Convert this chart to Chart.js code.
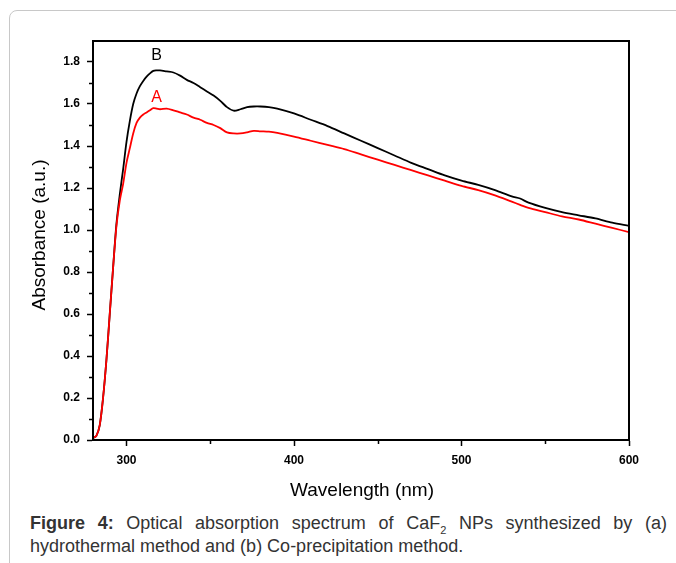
<!DOCTYPE html>
<html>
<head>
<meta charset="utf-8">
<script src="https://cdn.jsdelivr.net/npm/chart.js@4/dist/chart.umd.min.js"></script>
<style>
  body { margin: 0; background: #fff; width: 676px; height: 563px; overflow: hidden; position: relative; }
  #frame { position: absolute; left: 9px; top: 10px; width: 700px; height: 600px; border: 1px solid #c8c8c8; border-radius: 8px; }
  #wrap { position: absolute; left: 0; top: 0; width: 676px; height: 510px; }
  #caption { position: absolute; left: 30px; top: 512px; width: 637px; font: 18px "Liberation Sans", Arial, sans-serif; color: #333; line-height: 23px; }
  #caption .l1 { text-align: justify; text-align-last: justify; white-space: nowrap; }
  #caption sub { font-size: 11px; line-height: 0; }
</style>
</head>
<body>
<div id="frame"></div>
<div id="wrap"><canvas id="absorb" width="676" height="510"></canvas></div>
<div id="caption">
  <div class="l1"><b>Figure 4:</b> Optical absorption spectrum of CaF<sub>2</sub> NPs synthesized by (a)</div>
  <div>hydrothermal method and (b) Co-precipitation method.</div>
</div>
<script>
// wavelength (nm)
var wavelength = [280, 282, 284, 286, 288, 290, 292, 294, 296, 298, 300, 302, 304, 306, 308, 310, 312, 314, 316, 318, 320,
  324, 328, 332, 336, 340, 344, 348, 352, 356, 360, 364, 368, 372, 376, 380, 385, 390,
  400, 410, 420, 430, 440, 450, 460, 470, 480, 490, 500, 510, 520, 530, 535, 540, 550, 560, 570, 580, 590, 600];

// curve A (red)
var absA = [0.01, 0.02, 0.07, 0.2, 0.38, 0.6, 0.82, 1.02, 1.14, 1.22, 1.32, 1.39, 1.46, 1.51, 1.535, 1.55, 1.56, 1.57, 1.58, 1.578, 1.575,
  1.578, 1.57, 1.56, 1.55, 1.535, 1.525, 1.51, 1.5, 1.485, 1.465, 1.46, 1.46, 1.465, 1.472, 1.47, 1.468, 1.462,
  1.445, 1.425, 1.405, 1.385, 1.36, 1.335, 1.31, 1.285, 1.26, 1.235, 1.21, 1.19, 1.165, 1.135, 1.12, 1.105, 1.085, 1.065, 1.05, 1.03, 1.01, 0.99];

// curve B (black)
var absB = [0.01, 0.02, 0.07, 0.2, 0.38, 0.6, 0.82, 1.03, 1.17, 1.29, 1.42, 1.52, 1.6, 1.65, 1.685, 1.71, 1.73, 1.746, 1.758, 1.76, 1.76,
  1.755, 1.75, 1.735, 1.715, 1.7, 1.68, 1.66, 1.64, 1.615, 1.585, 1.568, 1.575, 1.585, 1.588, 1.588, 1.585, 1.578,
  1.555, 1.525, 1.495, 1.46, 1.425, 1.39, 1.355, 1.32, 1.29, 1.26, 1.235, 1.215, 1.19, 1.16, 1.15, 1.13, 1.105, 1.085, 1.07, 1.055, 1.035, 1.02];

var xTicks = [300, 400, 500, 600];
var xMinor = [350, 450, 550];
var yTicks = [0, 0.2, 0.4, 0.6, 0.8, 1.0, 1.2, 1.4, 1.6, 1.8];
var yMinor = [0.1, 0.3, 0.5, 0.7, 0.9, 1.1, 1.3, 1.5, 1.7];

var FONT = '"Liberation Sans", Arial, sans-serif';

function pts(ys) {
  return wavelength.map(function (x, i) { return { x: x, y: ys[i] }; });
}

var extras = {
  id: "extras",
  afterDraw: function (chart) {
    var c = chart.ctx, a = chart.chartArea;
    var xs = chart.scales.x, ys = chart.scales.y;
    c.save();
    // frame
    c.strokeStyle = "#000";
    c.lineWidth = 2;
    c.strokeRect(a.left, a.top, a.right - a.left, a.bottom - a.top);
    // minor ticks
    c.lineWidth = 1.5;
    c.beginPath();
    yMinor.forEach(function (v) {
      var py = Math.round(ys.getPixelForValue(v)) + 0.5;
      c.moveTo(a.left - 4, py); c.lineTo(a.left, py);
    });
    xMinor.forEach(function (v) {
      var px = Math.round(xs.getPixelForValue(v)) + 0.5;
      c.moveTo(px, a.bottom); c.lineTo(px, a.bottom + 4);
    });
    c.stroke();
    // curve labels
    c.font = "16px " + FONT;
    c.textAlign = "center";
    c.textBaseline = "middle";
    c.fillStyle = "#000";
    c.fillText("B", xs.getPixelForValue(318), ys.getPixelForValue(1.83));
    c.fillStyle = "#ff0000";
    c.fillText("A", xs.getPixelForValue(318), ys.getPixelForValue(1.63));
    // axis titles
    c.fillStyle = "#000";
    c.font = "19px " + FONT;
    c.textBaseline = "alphabetic";
    c.fillText("Wavelength (nm)", (a.left + a.right) / 2 + 1, 496);
    c.translate(45, 235);
    c.rotate(-Math.PI / 2);
    c.fillText("Absorbance (a.u.)", 0, 0);
    c.restore();
  }
};

var ctx = document.getElementById("absorb").getContext("2d");
var chart = new Chart(ctx, {
  type: "line",
  data: {
    datasets: [
      {
        label: "A",
        data: pts(absA),
        borderColor: "#ff0000",
        borderWidth: 1.8,
        pointRadius: 0,
        tension: 0.3,
        fill: false
      },
      {
        label: "B",
        data: pts(absB),
        borderColor: "#000000",
        borderWidth: 1.8,
        pointRadius: 0,
        tension: 0.3,
        fill: false
      }
    ]
  },
  options: {
    responsive: false,
    animation: false,
    layout: { padding: { left: 0, top: 41, right: 47, bottom: 0 } },
    plugins: { legend: { display: false }, tooltip: { enabled: false }, title: { display: false } },
    scales: {
      x: {
        type: "linear",
        min: 280,
        max: 600,
        afterBuildTicks: function (s) { s.ticks = xTicks.map(function (v) { return { value: v }; }); },
        afterFit: function (s) { s.height = 70; },
        grid: { drawOnChartArea: false, drawTicks: true, tickLength: 6, tickWidth: 1.5, color: "#000" },
        border: { display: true, color: "#000", width: 2 },
        ticks: { color: "#000", padding: 7, maxRotation: 0, font: { family: FONT, size: 12, weight: "bold" } }
      },
      y: {
        type: "linear",
        min: 0,
        max: 1.9,
        afterBuildTicks: function (s) { s.ticks = yTicks.map(function (v) { return { value: v }; }); },
        afterFit: function (s) { s.width = 93; },
        grid: { drawOnChartArea: false, drawTicks: true, tickLength: 6, tickWidth: 1.5, color: "#000" },
        border: { display: true, color: "#000", width: 2 },
        ticks: {
          color: "#000",
          padding: 7,
          font: { family: FONT, size: 12, weight: "bold" },
          callback: function (v) { return Number(v).toFixed(1); }
        }
      }
    }
  },
  plugins: [extras]
});
</script>
</body>
</html>
